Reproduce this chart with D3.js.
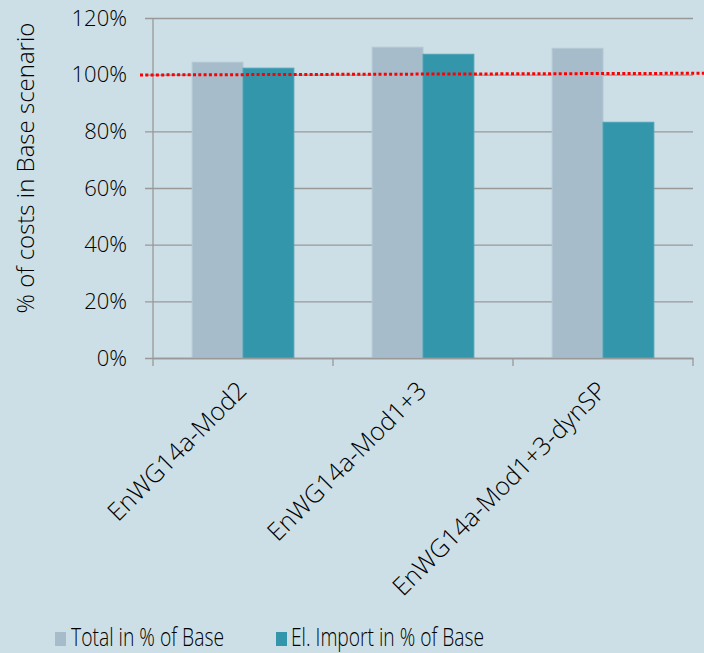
<!DOCTYPE html>
<html><head><meta charset="utf-8">
<script src="https://cdn.jsdelivr.net/npm/d3@7"></script>
<style>
html,body{margin:0;padding:0;background:#cddfe6;}
svg{display:block;font-family:"Open Sans","Noto Sans",sans-serif;font-weight:300;}
</style></head>
<body><svg id="c" width="704" height="653"></svg>
<script>
const categories = ["EnWG14a-Mod2", "EnWG14a-Mod1+3", "EnWG14a-Mod1+3-dynSP"];
const seriesNames = ["Total in % of Base", "El. Import in % of Base"];
const totalValues = [104.4, 109.7, 109.3];
const importValues = [102.3, 107.2, 83.2];
const yTicks = [0, 20, 40, 60, 80, 100, 120];
const refLine = [99.9, 100.5]; // red dotted reference (start, end)
const colors = ["#a6bccb", "#3396ab"];

const svg = d3.select("#c");
const W = 704, H = 653;
svg.append("rect").attr("width", W).attr("height", H).attr("fill", "#cddfe6");

const m = {left: 153, right: 11, top: 18, bottom: 295};
const x = d3.scaleBand().domain(categories).range([m.left, W - m.right]).paddingInner(0).paddingOuter(0);
const y = d3.scaleLinear().domain([0, 120]).range([H - m.bottom, m.top]);
const xs = d3.scaleBand().domain([0, 1]).range([0, x.bandwidth()]).paddingInner(0).paddingOuter(0.77);

// gridlines
const yAxis = d3.axisLeft(y).tickValues(yTicks).tickFormat(d => d + "%").tickSize(-(W - m.right - m.left)).tickPadding(26);
const gy = svg.append("g").attr("transform", `translate(${m.left},0)`).call(yAxis);
gy.select(".domain").remove();
gy.selectAll(".tick line").attr("stroke", "#999").attr("stroke-width", 1.3).attr("x1", -8).attr("x2", W - m.right - m.left);
gy.selectAll(".tick text").attr("font-size", 22).attr("fill", "#000").attr("font-family", "'Open Sans',sans-serif").attr("font-weight", 300);
svg.append("line").attr("x1", m.left).attr("x2", m.left).attr("y1", y(120)).attr("y2", y(0)).attr("stroke", "#999").attr("stroke-width", 1.3);

// bars
const data = categories.map((c, i) => ({c, vals: [totalValues[i], importValues[i]]}));
const g = svg.append("g");
data.forEach(d => {
  d.vals.forEach((v, j) => {
    g.append("rect")
      .attr("x", x(d.c) + xs(j))
      .attr("width", xs.bandwidth())
      .attr("y", y(v))
      .attr("height", y(0) - y(v))
      .attr("fill", colors[j])
      .attr("stroke", j === 0 ? "#b3c8d4" : "#4aa3b6")
      .attr("stroke-width", 1);
  });
});

// x axis
const xAxis = d3.axisBottom(x).tickSize(0).tickFormat("");
const gx = svg.append("g").attr("transform", `translate(0,${y(0)})`).call(xAxis);
gx.select(".domain").attr("stroke", "#999").attr("stroke-width", 1.3);
const bounds = [m.left, ...categories.map(c => x(c) + x.bandwidth())];
bounds.forEach(b => {
  svg.append("line").attr("x1", b).attr("x2", b).attr("y1", y(0)).attr("y2", y(0) + 8).attr("stroke", "#999").attr("stroke-width", 1.3);
});
categories.forEach(c => {
  const cx = x(c) + x.bandwidth() / 2;
  svg.append("text")
    .attr("transform", `translate(${cx - 1},${y(0) + 28}) rotate(-45)`)
    .attr("text-anchor", "end")
    .attr("dy", "0.35em")
    .attr("font-size", 25)
    .attr("fill", "#000")
    .text(c);
});

// red dotted reference line
svg.append("line")
  .attr("x1", 140).attr("x2", W)
  .attr("y1", y(refLine[0])).attr("y2", y(refLine[1]))
  .attr("stroke", "#ff0000").attr("stroke-width", 3)
  .attr("stroke-dasharray", "3,2.3");

// y label
svg.append("text")
  .attr("transform", `translate(34,168) rotate(-90)`)
  .attr("text-anchor", "middle")
  .attr("font-size", 24)
  .attr("fill", "#000")
  .text("% of costs in Base scenario");

// legend
const leg = [{x: 55, tx: 71, tl: 153}, {x: 276, tx: 291, tl: 193}];
seriesNames.forEach((s, i) => {
  svg.append("rect").attr("x", leg[i].x).attr("y", 632).attr("width", 11).attr("height", 14).attr("fill", colors[i]);
  svg.append("text").attr("x", leg[i].tx).attr("y", 646).attr("font-size", 25).attr("fill", "#000")
    .attr("textLength", leg[i].tl).attr("lengthAdjust", "spacingAndGlyphs").text(s);
});
</script></body></html>
